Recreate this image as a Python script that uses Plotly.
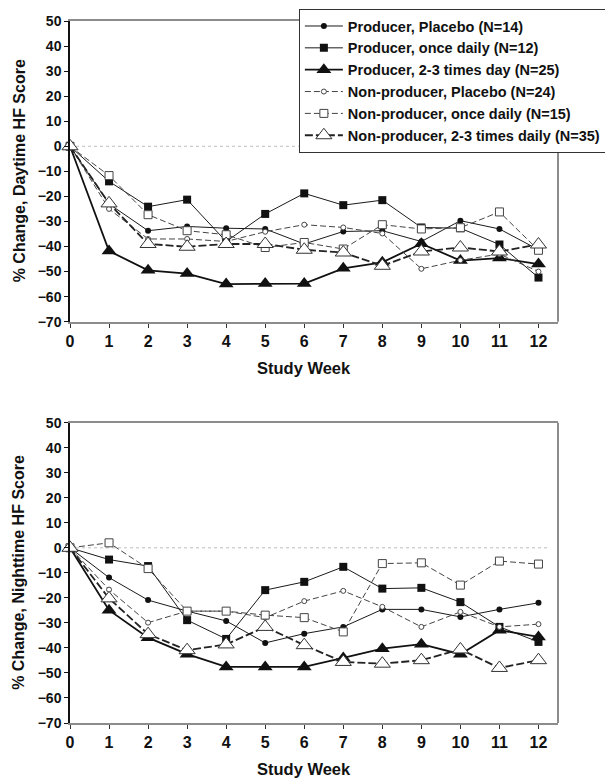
import plotly.graph_objects as go
from plotly.subplots import make_subplots

weeks = list(range(13))
tick_vals_y = list(range(-70, 51, 10))

series_names = [
    "Producer, Placebo (N=14)",
    "Producer, once daily (N=12)",
    "Producer, 2-3 times day (N=25)",
    "Non-producer, Placebo (N=24)",
    "Non-producer, once daily (N=15)",
    "Non-producer, 2-3 times daily (N=35)",
]

# Daytime HF score (% change)
day_prod_placebo = [0, -23, -33.7, -32, -32.7, -33, -39, -34, -33.7, -38, -29.7, -33, -41.3]
day_prod_once = [0, -14, -24.1, -21.3, -38, -27, -18.8, -23.5, -21.5, -32.4, -32.7, -39.2, -52.4]
day_prod_23 = [0, -41.8, -49.5, -50.8, -55, -54.8, -54.8, -48.7, -46.3, -38.9, -45.6, -44.6, -47]
day_np_placebo = [0, -25, -37, -37, -38, -34.1, -31.3, -32.4, -34.8, -48.9, -45.5, -43, -50]
day_np_once = [0, -11.7, -27.3, -33.7, -35.3, -40.4, -38.4, -41, -31.3, -33, -32.5, -26.2, -41.5]
day_np_23 = [0, -22.8, -39, -40.1, -39, -39, -41.3, -42.4, -47.7, -42, -40.4, -42, -39.2]

# Nighttime HF score (% change)
night_prod_placebo = [0, -11.9, -20.9, -25.3, -29.2, -38, -34.3, -31.6, -24.6, -24.6, -27.6, -24.6, -22]
night_prod_once = [0, -4.7, -7.3, -28.9, -36.4, -16.9, -13.6, -7.6, -16.3, -16, -21.7, -31.6, -37.6]
night_prod_23 = [0, -24.9, -35.9, -42.5, -47.6, -47.6, -47.6, -44, -40.3, -38.5, -42.5, -32.9, -35.6]
night_np_placebo = [0, -16.7, -29.9, -25.3, -25.3, -27.9, -21.3, -17.2, -23.6, -31.6, -25.6, -31.6, -30.5]
night_np_once = [0, 2, -8.3, -25.3, -25.3, -26.9, -27.9, -33.6, -6.3, -6, -14.9, -5.3, -6.5]
night_np_23 = [0, -20.2, -34.5, -40.9, -38.6, -31.6, -38.9, -45.6, -46.3, -44.9, -40.6, -48, -44.9]

day_series = [day_prod_placebo, day_prod_once, day_prod_23, day_np_placebo, day_np_once, day_np_23]
night_series = [night_prod_placebo, night_prod_once, night_prod_23, night_np_placebo, night_np_once, night_np_23]

styles = [
    dict(line=dict(color="#1a1a1a", width=1), marker=dict(symbol="circle", size=6, color="#111", line=dict(width=0))),
    dict(line=dict(color="#1a1a1a", width=1), marker=dict(symbol="square", size=8, color="#111", line=dict(width=0))),
    dict(line=dict(color="#111", width=1.8), marker=dict(symbol="triangle-up", size=13, color="#111", line=dict(width=0))),
    dict(line=dict(color="#444", width=1, dash="6px,3px"), marker=dict(symbol="circle", size=5, color="white", line=dict(color="#444", width=1))),
    dict(line=dict(color="#444", width=1, dash="6px,3px"), marker=dict(symbol="square", size=8, color="white", line=dict(color="#444", width=1))),
    dict(line=dict(color="#222", width=1.8, dash="8px,3px"), marker=dict(symbol="triangle-up", size=14, color="white", line=dict(color="#333", width=1))),
]

FONT = "Arial, 'Liberation Sans', sans-serif"

fig = make_subplots(rows=2, cols=1, vertical_spacing=0.1)

for row, data in ((1, day_series), (2, night_series)):
    for name, vals, st in zip(series_names, data, styles):
        fig.add_trace(
            go.Scatter(
                x=weeks, y=vals, name=name, mode="lines+markers",
                line=st["line"], marker=st["marker"], cliponaxis=False,
                showlegend=(row == 1),
            ),
            row=row, col=1,
        )

fig.update_yaxes(domain=[0.5717, 1.0], row=1, col=1)
fig.update_yaxes(domain=[0.0, 0.4278], row=2, col=1)

fig.update_xaxes(
    range=[0, 12.5], tickmode="array", tickvals=weeks, ticktext=[str(w) for w in weeks],
    showgrid=False, zeroline=False, showline=True, linecolor="#8c8c8c", linewidth=2, mirror=True,
    ticks="outside", ticklen=4, tickcolor="#333", tickwidth=1,
    tickfont=dict(family=FONT, size=16, color="#111", weight="bold"),
    automargin=False,
)
fig.update_yaxes(
    range=[-70, 50], tickmode="array", tickvals=tick_vals_y,
    showgrid=False, zeroline=False, showline=True, linecolor="#111", linewidth=1.5,
    ticks="outside", ticklen=4, tickcolor="#111", tickwidth=1,
    tickfont=dict(family=FONT, size=14, color="#111", weight="bold"),
    automargin=False,
)

for xr, yr in (("x", "y"), ("x2", "y2")):
    # dotted zero reference line
    fig.add_shape(type="line", xref=xr, yref=yr, x0=0, x1=12.3, y0=0, y1=0,
                  line=dict(color="#bdbdbd", width=1, dash="dot"), layer="below")
    # right border
    fig.add_shape(type="line", xref=xr + " domain", yref=yr + " domain", x0=1, x1=1, y0=0, y1=1,
                  line=dict(color="#8c8c8c", width=2))

ann = []
for xr, yr, txt in (("x", "y", "% Change, Daytime HF Score"), ("x2", "y2", "% Change, Nighttime HF Score")):
    ann.append(dict(text=txt, xref=xr + " domain", yref=yr + " domain", x=0, y=0.5,
                    xanchor="center", yanchor="middle", xshift=-51, textangle=-90, showarrow=False,
                    font=dict(family=FONT, size=16, color="#111", weight="bold")))
    ann.append(dict(text="Study Week", xref=xr + " domain", yref=yr + " domain", x=0.48, y=0,
                    xanchor="center", yanchor="middle", yshift=-46, showarrow=False,
                    font=dict(family=FONT, size=16.5, color="#111", weight="bold")))

# page body has an 8px default margin, so the figure is sized to fit the window
fig.update_layout(
    width=605, height=776,
    margin=dict(l=62.3, r=55, t=12.7, b=61.3, autoexpand=False),
    paper_bgcolor="white", plot_bgcolor="white",
    annotations=ann,
    legend=dict(
        x=0.469, y=1.017, xref="paper", yref="paper", xanchor="left", yanchor="top",
        bgcolor="white", bordercolor="#333", borderwidth=1,
        font=dict(family=FONT, size=14.5, color="#111", weight="bold"),
        itemwidth=38, tracegroupgap=0,
    ),
    showlegend=True,
)

fig.write_html("out.html")
